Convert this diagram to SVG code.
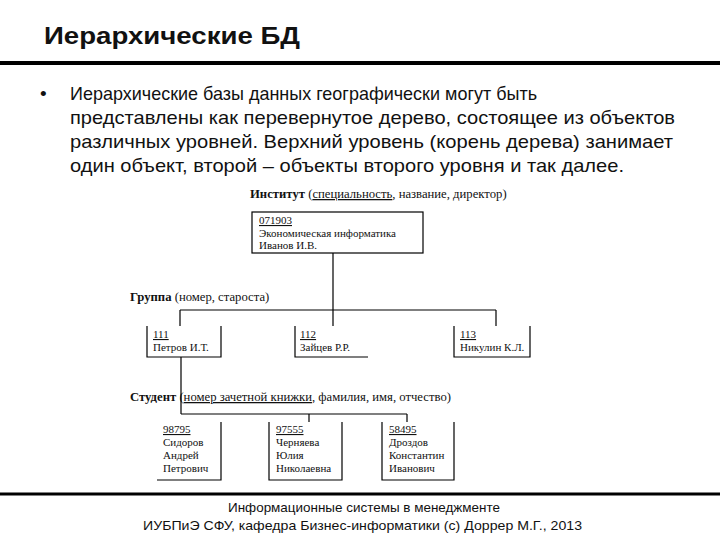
<svg xmlns="http://www.w3.org/2000/svg" width="720" height="540" viewBox="0 0 720 540">
<style>
.title{font-family:"Liberation Sans",Arial,sans-serif;font-weight:bold;font-size:24px;fill:#111}
.body{font-family:"Liberation Sans",Arial,sans-serif;font-size:19px;fill:#111}
.foot{font-family:"Liberation Sans",Arial,sans-serif;font-size:13.5px;fill:#111}
.lbl{font-family:"Liberation Serif","Times New Roman",serif;font-size:12.7px;fill:#111}
.t{font-family:"Liberation Serif","Times New Roman",serif;font-size:11px;fill:#111}
.ln{stroke:#000;stroke-width:1.2;fill:none}
.rule{stroke:#000;stroke-width:4}
</style>
<rect width="720" height="540" fill="#fff"/>
<text class="title" x="44" y="44" textLength="256" lengthAdjust="spacingAndGlyphs">Иерархические БД</text>
<line class="rule" x1="0" y1="63" x2="720" y2="63"/>
<g id="bullet">
<text class="body" x="40" y="100">•</text>
<text class="body" x="70" y="100" textLength="467" lengthAdjust="spacingAndGlyphs">Иерархические базы данных географически могут быть</text>
<text class="body" x="70" y="124" textLength="605" lengthAdjust="spacingAndGlyphs">представлены как перевернутое дерево, состоящее из объектов</text>
<text class="body" x="70" y="148" textLength="603" lengthAdjust="spacingAndGlyphs">различных уровней. Верхний уровень (корень дерева) занимает</text>
<text class="body" x="70" y="172" textLength="554" lengthAdjust="spacingAndGlyphs">один объект, второй – объекты второго уровня и так далее.</text>
</g>
<g id="labels">
<text class="lbl" x="250" y="198"><tspan font-weight="bold">Институт</tspan> (<tspan text-decoration="underline">специальность</tspan>, название, директор)</text>
<text class="lbl" x="130" y="301"><tspan font-weight="bold">Группа</tspan> (номер, староста)</text>
<text class="lbl" x="130" y="401"><tspan font-weight="bold">Студент</tspan> (<tspan text-decoration="underline">номер зачетной книжки</tspan>, фамилия, имя, отчество)</text>
</g>
<g id="connectors">
<path class="ln" d="M333 253V310M180 310H496M180 310V326M333 310V326M496 310V326"/>
<path class="ln" d="M181 357V414M181 414H407M309 414V422M407 414V422"/>
</g>
<g id="institute">
<rect class="ln" x="252" y="212" width="171" height="41"/>
<text class="t" x="259" y="224" text-decoration="underline">071903</text>
<text class="t" x="259" y="237">Экономическая информатика</text>
<text class="t" x="259" y="249">Иванов И.В.</text>
</g>
<g id="group111">
<path class="ln" d="M147 326V357H221V326"/>
<text class="t" x="153" y="338" text-decoration="underline">111</text>
<text class="t" x="153" y="351">Петров И.Т.</text>
</g>
<g id="group112">
<path class="ln" d="M295 326V357H368"/>
<text class="t" x="300" y="338" text-decoration="underline">112</text>
<text class="t" x="300" y="351">Зайцев Р.Р.</text>
</g>
<g id="group113">
<path class="ln" d="M454 326V357H530V326"/>
<text class="t" x="460" y="338" text-decoration="underline">113</text>
<text class="t" x="460" y="351">Никулин К.Л.</text>
</g>
<g id="student1">
<path class="ln" d="M157 480H221V422"/>
<text class="t" x="163" y="433" text-decoration="underline">98795</text>
<text class="t" x="163" y="446">Сидоров</text>
<text class="t" x="163" y="459">Андрей</text>
<text class="t" x="163" y="472">Петрович</text>
</g>
<g id="student2">
<path class="ln" d="M269 422V480H342V422"/>
<text class="t" x="276" y="433" text-decoration="underline">97555</text>
<text class="t" x="276" y="446">Черняева</text>
<text class="t" x="276" y="459">Юлия</text>
<text class="t" x="276" y="472">Николаевна</text>
</g>
<g id="student3">
<path class="ln" d="M382 422V480H454V422"/>
<text class="t" x="389" y="433" text-decoration="underline">58495</text>
<text class="t" x="389" y="446">Дроздов</text>
<text class="t" x="389" y="459">Константин</text>
<text class="t" x="389" y="472">Иванович</text>
</g>
<line x1="0" y1="494" x2="720" y2="494" stroke="#000" stroke-width="3"/>
<text class="foot" x="228" y="512" textLength="272" lengthAdjust="spacingAndGlyphs">Информационные системы в менеджменте</text>
<text class="foot" x="143" y="530" textLength="439" lengthAdjust="spacingAndGlyphs">ИУБПиЭ СФУ, кафедра Бизнес-информатики (с) Доррер М.Г., 2013</text>
</svg>
